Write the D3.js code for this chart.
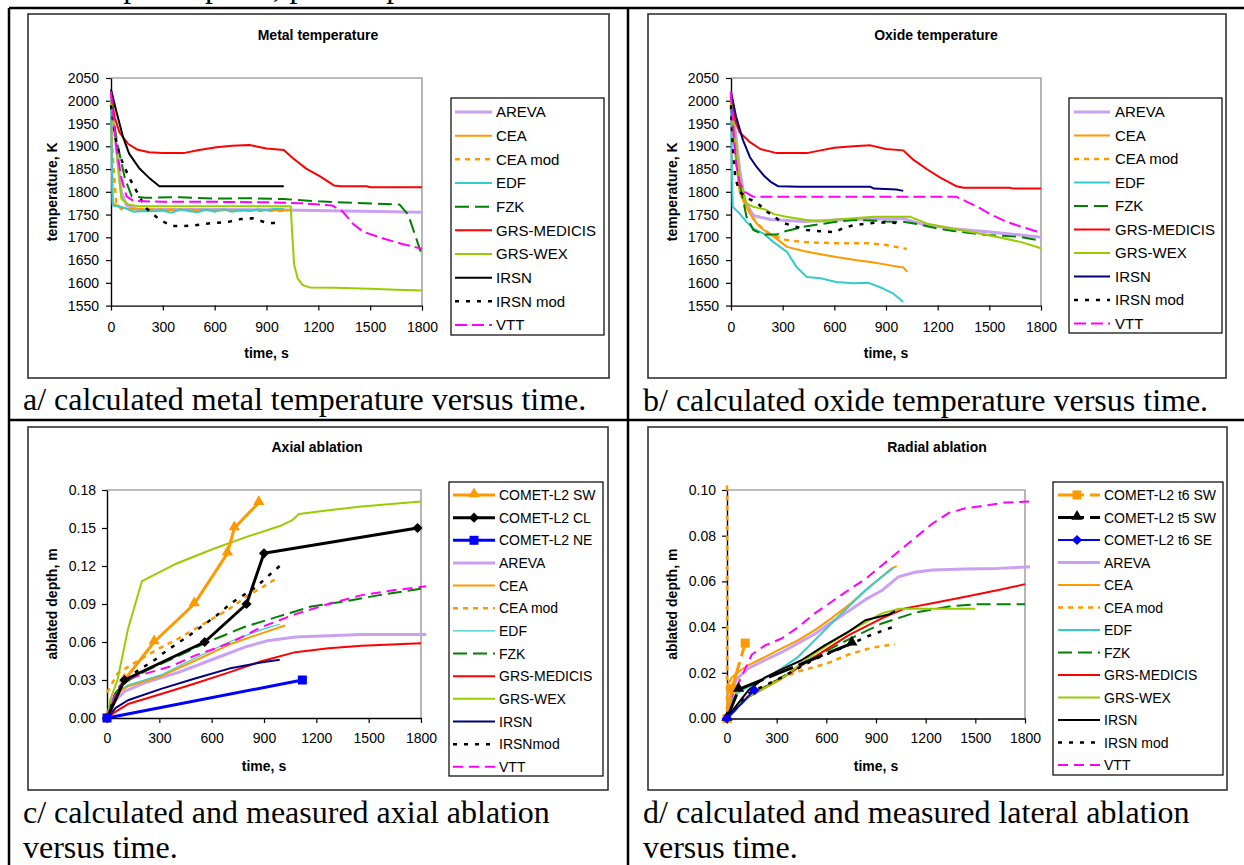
<!DOCTYPE html>
<html>
<head>
<meta charset="utf-8">
<script src="https://cdn.jsdelivr.net/npm/d3@7"></script>
<style>
  body { margin: 0; background: #fff; }
  svg { display: block; }
</style>
</head>
<body>
<svg id="fig" width="1244" height="865"></svg>
<script>
// ticks
var timeTicks = [0, 300, 600, 900, 1200, 1500, 1800];
var tempTicks = [1550, 1600, 1650, 1700, 1750, 1800, 1850, 1900, 1950, 2000, 2050];
var axialTicks = [0, 0.03, 0.06, 0.09, 0.12, 0.15, 0.18];
var radialTicks = [0, 0.02, 0.04, 0.06, 0.08, 0.10];

var calcNames = ["AREVA", "CEA", "CEA mod", "EDF", "FZK", "GRS-MEDICIS", "GRS-WEX", "IRSN", "IRSN mod", "VTT"];
var axialNames = ["COMET-L2 SW", "COMET-L2 CL", "COMET-L2 NE", "AREVA", "CEA", "CEA mod", "EDF", "FZK", "GRS-MEDICIS", "GRS-WEX", "IRSN", "IRSNmod", "VTT"];
var radialNames = ["COMET-L2 t6 SW", "COMET-L2 t5 SW", "COMET-L2 t6 SE", "AREVA", "CEA", "CEA mod", "EDF", "FZK", "GRS-MEDICIS", "GRS-WEX", "IRSN", "IRSN mod", "VTT"];

// a/ metal temperature  [time s, K]
var metalAREVA = [[0,2000],[30,1900],[60,1800],[90,1770],[150,1762],[1000,1760],[1800,1755]];
var metalCEA = [[0,1990],[5,1900],[10,1775],[50,1768],[100,1762],[200,1760],[1030,1760]];
var metalCEAmod = [[0,1940],[15,1850],[30,1775],[60,1762],[1000,1758]];
var metalEDF = [[0,1990],[5,1860],[10,1770],[50,1767],[90,1763],[130,1756],[200,1758],[250,1757],[300,1759],[350,1754],[400,1761],[450,1758],[500,1755],[550,1761],[600,1756],[650,1762],[700,1756],[750,1760],[800,1758],[850,1761],[900,1760],[950,1762],[1000,1763]];
var metalFZK = [[0,1990],[40,1900],[80,1830],[120,1790],[200,1787],[400,1788],[600,1785],[800,1786],[1000,1784],[1200,1779],[1400,1776],[1670,1772],[1720,1750],[1800,1660]];
var metalMEDICIS = [[0,2020],[20,1965],[50,1930],[100,1905],[150,1893],[220,1887],[300,1885],[420,1885],[510,1892],[610,1898],[700,1901],[800,1903],[900,1895],[1000,1892],[1055,1873],[1130,1851],[1210,1834],[1290,1814],[1330,1812],[1480,1812],[1500,1810],[1800,1810]];
var metalWEX = [[0,2000],[25,1920],[50,1820],[60,1785],[100,1772],[150,1769],[1040,1768],[1050,1700],[1060,1640],[1080,1610],[1110,1595],[1150,1590],[1300,1589],[1500,1587],[1650,1585],[1800,1583]];
var metalIRSN = [[0,2025],[30,1978],[70,1920],[105,1884],[165,1851],[225,1829],[280,1812],[1000,1812]];
var metalIRSNmod = [[0,1990],[25,1920],[50,1880],[100,1835],[150,1800],[200,1765],[280,1739],[350,1725],[420,1725],[480,1726],[550,1730],[620,1732],[690,1735],[750,1740],[820,1742],[900,1732],[980,1731]];
var metalVTT = [[0,2020],[15,1960],[30,1900],[60,1830],[90,1790],[130,1780],[300,1778],[600,1778],[900,1777],[1100,1775],[1280,1770],[1340,1757],[1400,1730],[1460,1712],[1580,1697],[1680,1686],[1800,1675]];

// b/ oxide temperature  [time s, K]
var oxideAREVA = [[0,2020],[20,1950],[50,1850],[80,1780],[130,1748],[230,1739],[420,1735],[610,1738],[800,1740],[1000,1741],[1100,1730],[1290,1719],[1490,1712],[1680,1705],[1800,1700]];
var oxideCEA = [[0,2000],[20,1900],[50,1800],[70,1781],[110,1752],[150,1730],[190,1716],[250,1701],[325,1679],[420,1670],[520,1663],[620,1656],[720,1650],[820,1645],[900,1640],[980,1635],[1000,1634],[1025,1624]];
var oxideCEAmod = [[0,1980],[20,1900],[50,1830],[80,1780],[120,1745],[170,1724],[230,1706],[320,1694],[420,1690],[520,1688],[620,1687],[800,1687],[900,1683],[1000,1676],[1020,1674]];
var oxideEDF = [[0,1990],[5,1850],[10,1767],[50,1752],[90,1734],[130,1719],[190,1708],[245,1690],[325,1668],[380,1635],[440,1613],[520,1610],[610,1602],[710,1599],[800,1600],[880,1588],[940,1577],[1000,1558]];
var oxideFZK = [[0,1990],[20,1920],[50,1820],[90,1745],[130,1716],[190,1706],[265,1706],[320,1714],[420,1723],[520,1729],[610,1734],[710,1738],[810,1737],[900,1735],[1000,1734],[1100,1728],[1200,1719],[1290,1714],[1490,1705],[1680,1701],[1780,1694],[1800,1692]];
var oxideMEDICIS = [[0,2010],[20,1960],[50,1931],[110,1909],[170,1894],[265,1885],[440,1885],[520,1891],[600,1897],[710,1900],[810,1902],[900,1894],[1000,1891],[1060,1870],[1140,1849],[1215,1831],[1310,1812],[1350,1809],[1620,1809],[1640,1807],[1800,1807]];
var oxideWEX = [[0,2000],[20,1930],[50,1830],[90,1774],[130,1767],[200,1761],[250,1751],[320,1745],[420,1739],[520,1735],[610,1739],[750,1743],[830,1745],[1040,1745],[1140,1730],[1290,1719],[1490,1705],[1680,1690],[1800,1676]];
var oxideIRSN = [[0,2020],[30,1964],[70,1913],[110,1876],[150,1854],[190,1836],[230,1822],[275,1812],[400,1811],[810,1811],[830,1807],[960,1805],[1000,1802]];
var oxideIRSNmod = [[0,1990],[10,1900],[25,1830],[50,1800],[100,1785],[150,1776],[210,1756],[300,1732],[440,1716],[600,1711],[660,1722],[720,1727],[850,1733],[1000,1731]];
var oxideVTT = [[0,2020],[15,1930],[30,1860],[50,1820],[80,1800],[130,1789],[500,1789],[1000,1789],[1310,1789],[1370,1778],[1430,1767],[1505,1751],[1600,1734],[1680,1724],[1800,1710]];

// c/ axial ablation  [time s, m]
var axialSW = [[0,0],[100,0.03],[270,0.06],[500,0.09],[690,0.13],[730,0.15],[870,0.17]];
var axialCL = [[0,0],[100,0.03],[560,0.06],[800,0.09],[900,0.13],[1780,0.15]];
var axialNE = [[0,0],[1120,0.03]];
var axialAREVA = [[0,0],[20,0.008],[50,0.014],[100,0.021],[220,0.028],[410,0.036],[600,0.046],[790,0.056],[920,0.061],[1080,0.064],[1270,0.065],[1460,0.066],[1830,0.066]];
var axialCEA = [[0,0],[30,0.015],[60,0.02],[120,0.025],[310,0.033],[500,0.045],[700,0.058],[890,0.067],[1020,0.073]];
var axialCEAmod = [[0,0.02],[20,0.025],[60,0.035],[150,0.043],[300,0.055],[400,0.062],[500,0.07],[600,0.078],[700,0.086],[800,0.096],[900,0.104],[980,0.111]];
var axialEDF = [[0,0],[30,0.015],[60,0.021],[120,0.026],[310,0.034],[500,0.047],[700,0.06],[890,0.07],[990,0.074]];
var axialFZK = [[0,0],[50,0.02],[100,0.028],[220,0.037],[410,0.049],[560,0.059],[790,0.072],[980,0.08],[1170,0.088],[1360,0.092],[1560,0.097],[1800,0.102]];
var axialMEDICIS = [[0,0],[50,0.005],[120,0.011],[310,0.019],[500,0.027],[700,0.036],[890,0.045],[1080,0.052],[1270,0.055],[1460,0.057],[1800,0.059]];
var axialWEX = [[0,0],[20,0.015],[60,0.03],[120,0.07],[200,0.108],[400,0.122],[600,0.133],[800,0.143],[1000,0.152],[1060,0.156],[1100,0.161],[1270,0.164],[1460,0.167],[1800,0.171]];
var axialIRSN = [[0,0],[50,0.008],[120,0.014],[310,0.023],[500,0.031],[700,0.039],[890,0.044],[990,0.046]];
var axialIRSNmod = [[0,0],[50,0.02],[100,0.03],[150,0.035],[275,0.046],[340,0.053],[470,0.065],[540,0.072],[620,0.08],[715,0.091],[850,0.103],[915,0.111],[990,0.12]];
var axialVTT = [[0,0],[50,0.02],[100,0.03],[220,0.035],[370,0.041],[500,0.049],[700,0.059],[890,0.072],[1080,0.082],[1270,0.09],[1460,0.097],[1650,0.101],[1830,0.104]];

// d/ radial ablation  [time s, m]
var radialT6SW = [[0,0],[30,0.013],[110,0.033]];
var radialT5SW = [[0,0],[70,0.0127],[754,0.0329]];
var radialT6SE = [[0,0],[165,0.0124]];
var radialAREVA = [[0,0],[20,0.008],[40,0.015],[70,0.018],[130,0.022],[230,0.0256],[330,0.029],[430,0.033],[530,0.037],[630,0.042],[735,0.047],[835,0.052],[935,0.056],[1035,0.062],[1135,0.064],[1240,0.065],[1440,0.0654],[1640,0.0657],[1830,0.0664]];
var radialCEA = [[0,0],[5,0.015],[30,0.018],[80,0.021],[130,0.0234],[230,0.027],[330,0.0307],[430,0.0343],[530,0.0387],[630,0.0438],[735,0.0496],[835,0.056],[935,0.062],[995,0.0657],[1025,0.0667]];
var radialCEAmod = [[0,0.102],[0,0],[130,0.01],[330,0.018],[450,0.021],[600,0.024],[735,0.028],[875,0.031],[1015,0.0325]];
var radialEDF = [[0,0],[30,0.008],[60,0.011],[130,0.0139],[230,0.0175],[330,0.022],[430,0.027],[530,0.0343],[630,0.0416],[735,0.049],[835,0.056],[935,0.062],[1005,0.066]];
var radialFZK = [[0,0],[130,0.0095],[330,0.018],[530,0.027],[735,0.0346],[935,0.0416],[1135,0.0463],[1340,0.049],[1500,0.05],[1800,0.05]];
var radialMEDICIS = [[0,0],[50,0.005],[130,0.0095],[330,0.0175],[530,0.027],[735,0.0365],[935,0.0438],[1075,0.0482],[1240,0.0504],[1440,0.0533],[1640,0.0562],[1800,0.0588]];
var radialWEX = [[0,0],[50,0.005],[130,0.0095],[330,0.0175],[530,0.0285],[735,0.038],[935,0.046],[1040,0.048],[1500,0.048]];
var radialIRSN = [[0,0],[60,0.006],[130,0.0124],[230,0.018],[330,0.0215],[450,0.0255],[590,0.032],[735,0.038],[835,0.043],[975,0.0455],[1015,0.047]];
var radialIRSNmod = [[0,0],[130,0.011],[330,0.018],[530,0.026],[700,0.031],[850,0.036],[1000,0.04]];
var radialVTT = [[0,0],[20,0.008],[50,0.013],[80,0.017],[150,0.028],[230,0.032],[330,0.035],[430,0.04],[530,0.046],[630,0.051],[730,0.056],[835,0.061],[935,0.067],[1035,0.073],[1135,0.079],[1235,0.085],[1340,0.09],[1440,0.092],[1540,0.093],[1680,0.0945],[1830,0.095]];

// line styles
var st = {
  AREVA: { color: "#c9a0f2", width: 3 },
  CEA: { color: "#ff9900", width: 2 },
  CEAmod: { color: "#ff9900", width: 2.5, dash: "5,5" },
  EDF: { color: "#33cccc", width: 2 },
  FZK: { color: "#008000", width: 2, dash: "14,6" },
  MEDICIS: { color: "#ff0000", width: 2 },
  WEX: { color: "#99cc00", width: 2 },
  IRSNblack: { color: "#000000", width: 2 },
  IRSNnavy: { color: "#000080", width: 2 },
  IRSNmod: { color: "#000000", width: 2.5, dash: "4,7" },
  VTT: { color: "#ff00ff", width: 2, dash: "12,5" }
};

var svg = d3.select("#fig");
var sans = "'Liberation Sans', Arial, sans-serif";
var serif = "'Liberation Serif', 'Times New Roman', serif";

// page text above the table, only its lower edge shows
svg.append("text").attr("x", 22).attr("y", -3).style("font-family", serif).style("font-size", "32px").text("and the participants; plotted parties.");

// table lines
[[9, 8, 1244, 8], [9, 420, 1244, 420], [9, 8, 9, 865], [628, 8, 628, 865]].forEach(function (l) {
  svg.append("line").attr("x1", l[0]).attr("y1", l[1]).attr("x2", l[2]).attr("y2", l[3])
    .style("stroke", "#000").style("stroke-width", 2.5);
});

function marker(sel, type, color, cx, cy) {
  if (type == "square") {
    sel.append("rect").attr("x", cx - 4.5).attr("y", cy - 4.5).attr("width", 9).attr("height", 9).style("fill", color);
  } else if (type == "diamond") {
    sel.append("path").attr("d", d3.symbol(d3.symbolSquare, 52)())
      .attr("transform", "translate(" + cx + "," + cy + ")rotate(45)").style("fill", color);
  } else if (type == "triangle") {
    sel.append("path").attr("d", d3.symbol(d3.symbolTriangle, 55)())
      .attr("transform", "translate(" + cx + "," + (cy - 1) + ")").style("fill", color);
  }
}

function drawPanel(p) {
  var g = svg.append("g");
  g.append("rect").attr("x", p.box[0]).attr("y", p.box[1]).attr("width", p.box[2]).attr("height", p.box[3])
    .style("fill", "#fff").style("stroke", "#333").style("stroke-width", 1.6);

  var x = d3.scaleLinear().domain([0, 1800]).range([p.plot[0], p.plot[1]]);
  var y = d3.scaleLinear().domain(p.yDomain).range([p.plot[3], p.plot[2]]);

  g.append("path")
    .attr("d", "M" + p.plot[0] + "," + p.plot[2] + "H" + p.plot[1] + "V" + p.plot[3])
    .style("fill", "none").style("stroke", "#a6a6a6").style("stroke-width", 1.6);

  var xa = g.append("g").attr("transform", "translate(0," + p.plot[3] + ")")
    .call(d3.axisBottom(x).tickValues(timeTicks).tickSize(5).tickSizeOuter(0).tickPadding(p.xPad).tickFormat(d3.format("d")));
  var ya = g.append("g").attr("transform", "translate(" + p.plot[0] + ",0)")
    .call(d3.axisLeft(y).tickValues(p.yTicks).tickSize(5).tickSizeOuter(0).tickPadding(p.yPad).tickFormat(p.yFormat));
  [xa, ya].forEach(function (a) {
    a.attr("font-family", sans).attr("font-size", 14);
    a.selectAll("text").style("fill", "#000");
    a.selectAll("line").style("stroke", "#000").style("stroke-width", 1.2);
    a.select(".domain").style("stroke", "#000").style("stroke-width", 1.4);
  });

  g.append("text").attr("x", p.title[0]).attr("y", p.title[1]).attr("text-anchor", "middle")
    .style("font-family", sans).style("font-weight", "bold").style("font-size", "14px").text(p.title[2]);
  g.append("text").attr("x", (p.plot[0] + p.plot[1]) / 2).attr("y", p.xLabelY).attr("text-anchor", "middle")
    .style("font-family", sans).style("font-weight", "bold").style("font-size", "14px").text("time, s");
  g.append("text").attr("text-anchor", "middle")
    .attr("transform", "translate(" + p.yLabelX + "," + (p.plot[2] + p.plot[3]) / 2 + ")rotate(-90)")
    .attr("dy", "0.35em")
    .style("font-family", sans).style("font-weight", "bold").style("font-size", "14px").text(p.yLabel);

  var line = d3.line()
    .x(function (d) { return x(d[0]); })
    .y(function (d) { return y(d[1]); });

  p.series.forEach(function (s) {
    g.append("path").datum(s.data).attr("d", line)
      .style("fill", "none").style("stroke", s.style.color).style("stroke-width", s.style.width)
      .style("stroke-dasharray", s.style.dash || null).style("stroke-linejoin", "round");
    if (s.marker) {
      s.data.forEach(function (d) {
        if (d[1] <= p.yDomain[1]) marker(g, s.marker, s.style.color, x(d[0]), y(d[1]));
      });
    }
  });

  // legend
  var L = p.legend;
  g.append("rect").attr("x", L.x).attr("y", L.y).attr("width", L.w).attr("height", L.h)
    .style("fill", "#fff").style("stroke", "#000").style("stroke-width", 1.2);
  p.legendOrder.forEach(function (s, i) {
    var ry = L.row0 + i * L.step;
    g.append("line").attr("x1", L.sx0).attr("x2", L.sx1).attr("y1", ry).attr("y2", ry)
      .style("stroke", s.style.color).style("stroke-width", s.style.width)
      .style("stroke-dasharray", s.style.dash || null);
    if (s.marker) marker(g, s.marker, s.style.color, L.mx, ry);
    g.append("text").attr("x", L.tx).attr("y", ry).attr("dy", "0.36em")
      .style("font-family", sans).style("font-size", L.fs + "px").text(s.name);
  });

  p.caption.forEach(function (c, i) {
    g.append("text").attr("x", p.captionX).attr("y", p.captionY + i * 35)
      .style("font-family", serif).style("font-size", "32px").text(c);
  });
}

function calcSeries(names, datas, styles) {
  return names.map(function (n, i) { return { name: n, data: datas[i], style: styles[i] }; });
}

var tempFormat = d3.format("d");
var ablFormat = d3.format(".2f");

// a/
var aSeries = calcSeries(calcNames,
  [metalAREVA, metalCEA, metalCEAmod, metalEDF, metalFZK, metalMEDICIS, metalWEX, metalIRSN, metalIRSNmod, metalVTT],
  [st.AREVA, st.CEA, st.CEAmod, st.EDF, st.FZK, st.MEDICIS, st.WEX, st.IRSNblack, st.IRSNmod, st.VTT]);
drawPanel({
  box: [28, 14, 581, 364], plot: [111, 422, 78, 305.6],
  yDomain: [1550, 2050], yTicks: tempTicks, yFormat: tempFormat, xPad: 11, yPad: 7,
  title: [318, 40, "Metal temperature"], yLabel: "temperature, K", yLabelX: 52, xLabelY: 358,
  series: aSeries, legendOrder: aSeries,
  legend: { x: 451, y: 98, w: 153, h: 237, row0: 112, step: 23.67, sx0: 455, sx1: 492, tx: 496, fs: 15 },
  caption: ["a/ calculated metal temperature versus time."], captionX: 23, captionY: 410
});

// b/
var bSeries = calcSeries(calcNames,
  [oxideAREVA, oxideCEA, oxideCEAmod, oxideEDF, oxideFZK, oxideMEDICIS, oxideWEX, oxideIRSN, oxideIRSNmod, oxideVTT],
  [st.AREVA, st.CEA, st.CEAmod, st.EDF, st.FZK, st.MEDICIS, st.WEX, st.IRSNnavy, st.IRSNmod, st.VTT]);
drawPanel({
  box: [648, 14, 578, 364], plot: [731, 1041, 78, 305.6],
  yDomain: [1550, 2050], yTicks: tempTicks, yFormat: tempFormat, xPad: 11, yPad: 7,
  title: [936, 40, "Oxide temperature"], yLabel: "temperature, K", yLabelX: 672, xLabelY: 358,
  series: bSeries, legendOrder: bSeries,
  legend: { x: 1069, y: 98, w: 153, h: 235, row0: 112, step: 23.5, sx0: 1074, sx1: 1110, tx: 1115, fs: 15 },
  caption: ["b/ calculated oxide temperature versus time."], captionX: 643, captionY: 411
});

// c/
var cCalc = calcSeries(axialNames.slice(3),
  [axialAREVA, axialCEA, axialCEAmod, axialEDF, axialFZK, axialMEDICIS, axialWEX, axialIRSN, axialIRSNmod, axialVTT],
  [st.AREVA, st.CEA, st.CEAmod, { color: "#33cccc", width: 1.2 }, st.FZK, st.MEDICIS, st.WEX, st.IRSNnavy, st.IRSNmod, { color: "#ff00ff", width: 2, dash: "10,6" }]);
var cExp = [
  { name: axialNames[0], data: axialSW, style: { color: "#ff9900", width: 3 }, marker: "triangle" },
  { name: axialNames[1], data: axialCL, style: { color: "#000000", width: 3 }, marker: "diamond" },
  { name: axialNames[2], data: axialNE, style: { color: "#0000ff", width: 3 }, marker: "square" }
];
drawPanel({
  box: [28, 427, 580, 363], plot: [107, 421, 490, 718],
  yDomain: [0, 0.18], yTicks: axialTicks, yFormat: ablFormat, xPad: 10, yPad: 6,
  title: [317, 452, "Axial ablation"], yLabel: "ablated depth, m", yLabelX: 52, xLabelY: 771,
  series: cCalc.concat(cExp), legendOrder: cExp.concat(cCalc),
  legend: { x: 449, y: 482, w: 154, h: 294, row0: 495, step: 22.65, sx0: 453, sx1: 495, mx: 474, tx: 499, fs: 14 },
  caption: ["c/ calculated and measured axial ablation", "versus time."], captionX: 23, captionY: 823
});

// d/
var dCalc = calcSeries(radialNames.slice(3),
  [radialAREVA, radialCEA, radialCEAmod, radialEDF, radialFZK, radialMEDICIS, radialWEX, radialIRSN, radialIRSNmod, radialVTT],
  [st.AREVA, st.CEA, st.CEAmod, st.EDF, st.FZK, st.MEDICIS, st.WEX, st.IRSNblack, st.IRSNmod, { color: "#ff00ff", width: 2, dash: "10,6" }]);
var dExp = [
  { name: radialNames[0], data: radialT6SW, style: { color: "#ff9900", width: 3, dash: "26,6" }, marker: "square" },
  { name: radialNames[1], data: radialT5SW, style: { color: "#000000", width: 3, dash: "26,6" }, marker: "triangle" },
  { name: radialNames[2], data: radialT6SE, style: { color: "#0000ff", width: 2 }, marker: "diamond" }
];
drawPanel({
  box: [648, 427, 579, 363], plot: [727, 1025, 490, 718.5],
  yDomain: [0, 0.10], yTicks: radialTicks, yFormat: ablFormat, xPad: 10, yPad: 6,
  title: [937, 452, "Radial ablation"], yLabel: "ablated depth, m", yLabelX: 672, xLabelY: 771,
  series: dCalc.concat(dExp), legendOrder: dExp.concat(dCalc),
  legend: { x: 1053, y: 482, w: 170, h: 293, row0: 495, step: 22.5, sx0: 1058, sx1: 1100, mx: 1077, tx: 1104, fs: 14 },
  caption: ["d/ calculated and measured lateral ablation", "versus time."], captionX: 643, captionY: 823
});
</script>
</body>
</html>
